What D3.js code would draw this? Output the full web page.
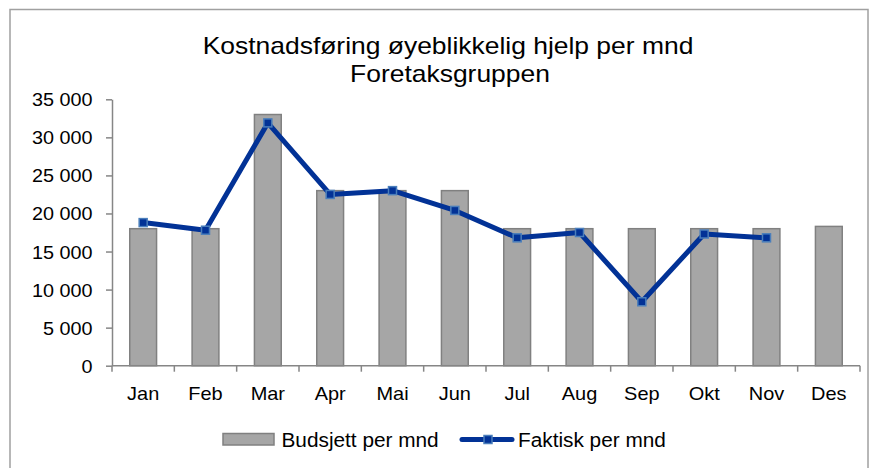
<!DOCTYPE html>
<html>
<head>
<meta charset="utf-8">
<script src="https://cdn.jsdelivr.net/npm/d3@7"></script>
<style>
  html, body { margin: 0; padding: 0; background: #fff; }
  svg { display: block; font-family: "Liberation Sans", Arial, sans-serif; }
</style>
</head>
<body>
<svg id="chart" width="878" height="468"></svg>
<script>
// Monthly data
const months = ["Jan", "Feb", "Mar", "Apr", "Mai", "Jun", "Jul", "Aug", "Sep", "Okt", "Nov", "Des"];
const budget = [18000, 18000, 33000, 23000, 23000, 23000, 18000, 18000, 18000, 18000, 18000, 18300];
const actual = [18800, 17800, 31900, 22500, 23000, 20400, 16800, 17500, 8400, 17300, 16800, null];
const yTicks = [0, 5000, 10000, 15000, 20000, 25000, 30000, 35000];
const titleLines = ["Kostnadsføring øyeblikkelig hjelp per mnd", "Foretaksgruppen"];
const legendLabels = ["Budsjett per mnd", "Faktisk per mnd"];

const svg = d3.select("#chart");
const plot = { left: 112, right: 860, top: 99.3, bottom: 365.7 };

const axisColor = "#868686";
const barFill = "#a6a6a6", barStroke = "#808080";
const lineColor = "#023296", markerStroke = "#4a7ebb";

const nb = d3.formatLocale({ decimal: ",", thousands: "\u00a0", grouping: [3], currency: ["", " kr"] });
const fmt = nb.format(",d");

// Outer chart frame
svg.append("rect")
  .attr("x", 10).attr("y", 9.5).attr("width", 858).attr("height", 470)
  .attr("fill", "#fff").attr("stroke", "#a0a0a0").attr("stroke-width", 1.5);

// Helper: text with a horizontal scale factor around its anchor point
function stretchText(sel, x, y, sx, anchor, size, txt) {
  return sel.append("text")
    .attr("transform", `translate(${x},${y}) scale(${sx},1)`)
    .attr("text-anchor", anchor)
    .attr("font-size", size)
    .attr("fill", "#000")
    .text(txt);
}

// Title
stretchText(svg, 448, 53.5, 1.15, "middle", 23, titleLines[0]);
stretchText(svg, 450, 82, 1.15, "middle", 23, titleLines[1]);

// Scales
const x = d3.scaleBand().domain(months).range([plot.left, plot.right]).padding(0);
const y = d3.scaleLinear().domain([0, 35000]).range([plot.bottom, plot.top]);
const barW = x.bandwidth() * 0.43;

// Bars
svg.append("g").selectAll("rect")
  .data(months.map((m, i) => ({ m, v: budget[i] })))
  .join("rect")
  .attr("x", d => x(d.m) + (x.bandwidth() - barW) / 2)
  .attr("y", d => y(d.v))
  .attr("width", barW)
  .attr("height", d => y(0) - y(d.v))
  .attr("fill", barFill)
  .attr("stroke", barStroke)
  .attr("stroke-width", 1.5);

// Y axis
const yAxis = svg.append("g")
  .attr("transform", `translate(${plot.left},0)`)
  .call(d3.axisLeft(y).tickValues(yTicks).tickSize(6).tickSizeOuter(0).tickFormat(fmt));
yAxis.select(".domain").attr("stroke", axisColor).attr("stroke-width", 1.5);
yAxis.selectAll(".tick line").attr("stroke", axisColor).attr("stroke-width", 1.5);
yAxis.selectAll(".tick text")
  .attr("x", null).attr("dy", null)
  .attr("font-size", 18).attr("font-family", null).attr("fill", "#000")
  .attr("transform", "translate(-19.5,6.5) scale(1.1,1)");

// X axis: labels at band centres, tick marks at band edges
const xAxis = svg.append("g")
  .attr("transform", `translate(0,${plot.bottom})`)
  .call(d3.axisBottom(x).tickSize(0).tickSizeOuter(0));
xAxis.select(".domain").remove();
xAxis.selectAll(".tick text")
  .attr("y", null).attr("dy", null)
  .attr("font-size", 19).attr("font-family", null).attr("fill", "#000")
  .attr("transform", "translate(0,34) scale(1.05,1)");
const edges = months.map(m => x(m)).concat([x.range()[1]]);
xAxis.selectAll("line.edge").data(edges).join("line")
  .attr("class", "edge")
  .attr("x1", d => d).attr("x2", d => d)
  .attr("y1", 0).attr("y2", 6)
  .attr("stroke", axisColor).attr("stroke-width", 1.5);
xAxis.append("line")
  .attr("x1", plot.left).attr("x2", plot.right)
  .attr("y1", 0).attr("y2", 0)
  .attr("stroke", axisColor).attr("stroke-width", 1.5);

// Actual line
const pts = months.map((m, i) => ({ m, v: actual[i] })).filter(d => d.v != null);
const line = d3.line().x(d => x(d.m) + x.bandwidth() / 2).y(d => y(d.v));
svg.append("path")
  .datum(pts)
  .attr("d", line)
  .attr("fill", "none")
  .attr("stroke", lineColor)
  .attr("stroke-width", 5)
  .attr("stroke-linejoin", "round")
  .attr("stroke-linecap", "round");

const ms = 8;
svg.append("g").selectAll("rect")
  .data(pts)
  .join("rect")
  .attr("x", d => x(d.m) + x.bandwidth() / 2 - ms / 2)
  .attr("y", d => y(d.v) - ms / 2)
  .attr("width", ms).attr("height", ms)
  .attr("fill", lineColor)
  .attr("stroke", markerStroke)
  .attr("stroke-width", 1.5);

// Legend
const lg = svg.append("g");
lg.append("rect")
  .attr("x", 223).attr("y", 433.5).attr("width", 51).attr("height", 11.5)
  .attr("fill", barFill).attr("stroke", barStroke).attr("stroke-width", 1.5);
stretchText(lg, 281.5, 446.7, 1.04, "start", 20, legendLabels[0]);

lg.append("line")
  .attr("x1", 462).attr("x2", 512).attr("y1", 439.5).attr("y2", 439.5)
  .attr("stroke", lineColor).attr("stroke-width", 5).attr("stroke-linecap", "round");
lg.append("rect")
  .attr("x", 488 - ms / 2).attr("y", 439.5 - ms / 2).attr("width", ms).attr("height", ms)
  .attr("fill", lineColor).attr("stroke", markerStroke).attr("stroke-width", 1.5);
stretchText(lg, 518, 446.7, 1.04, "start", 20, legendLabels[1]);
</script>
</body>
</html>
